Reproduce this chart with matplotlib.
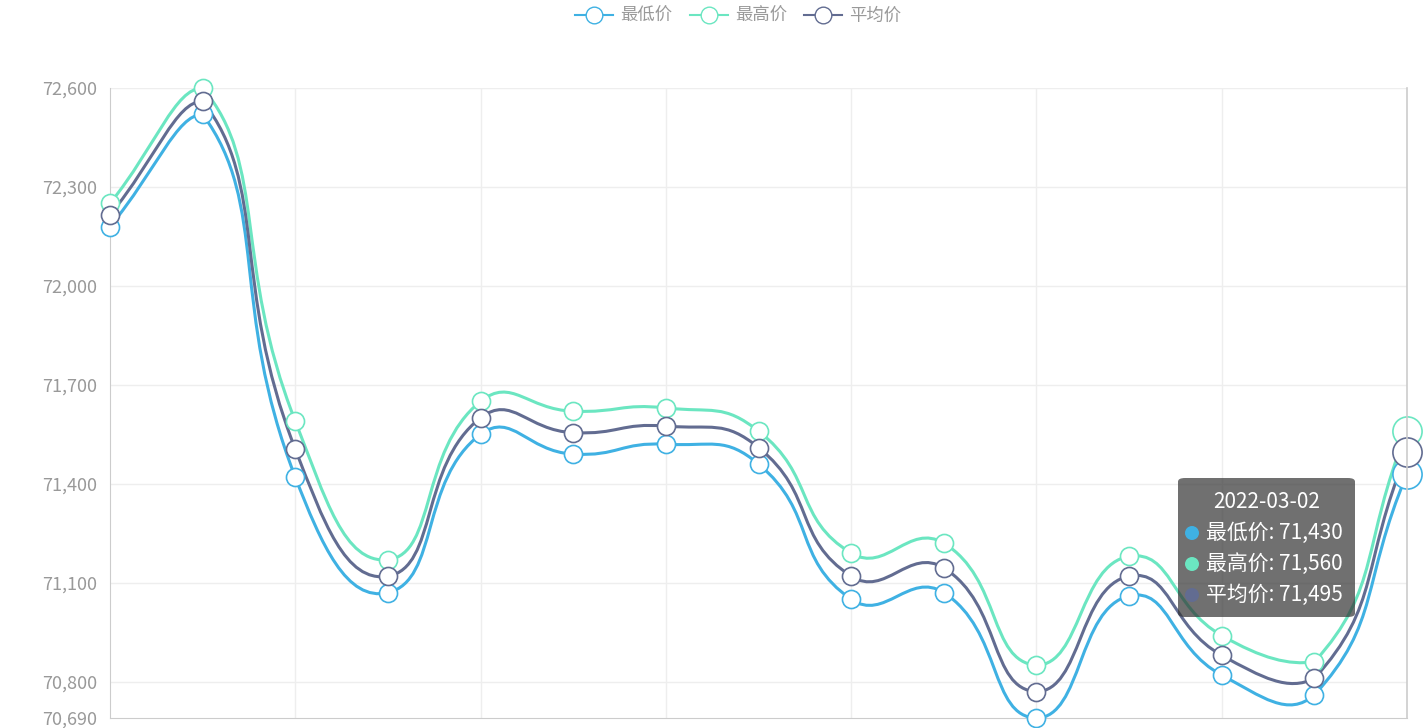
import numpy as np
import matplotlib.pyplot as plt
from matplotlib.path import Path
from matplotlib.patches import PathPatch, FancyBboxPatch, Ellipse
from matplotlib.lines import Line2D
from matplotlib.ticker import FuncFormatter

plt.rcParams['font.family'] = ['Noto Sans CJK SC', 'DejaVu Sans']

# data
low = [72180, 72520, 71420, 71070, 71550, 71490, 71520, 71460, 71050, 71070, 70690, 71060, 70820, 70760, 71430]
high = [72250, 72600, 71590, 71170, 71650, 71620, 71630, 71560, 71190, 71220, 70850, 71180, 70940, 70860, 71560]
avg = [72215, 72560, 71505, 71120, 71600, 71555, 71575, 71510, 71120, 71145, 70770, 71120, 70880, 70810, 71495]
names = ['最低价', '最高价', '平均价']
colors = ['#3fb1e3', '#6be6c1', '#626c91']
y_ticks = [70690, 70800, 71100, 71400, 71700, 72000, 72300, 72600]
tip_date = '2022-03-02'

sx, sy = 92.6, 0.33   # px per unit, used for spline weighting


def smooth_path(xs, ys, smooth=0.5):
    # echarts-like smoothing, control points clamped to the series bbox
    pts = np.column_stack([xs, ys]).astype(float)
    n = len(pts)
    lo, hi = pts.min(axis=0), pts.max(axis=0)
    scale = np.array([sx, sy])
    cps = []
    for i in range(n):
        p = pts[i]
        prev = pts[i - 1] if i > 0 else p
        nxt = pts[i + 1] if i < n - 1 else p
        v = (nxt - prev) * smooth
        d0 = np.linalg.norm((p - prev) * scale)
        d1 = np.linalg.norm((nxt - p) * scale)
        tot = d0 + d1 if d0 + d1 > 0 else 1
        c0 = np.clip(p - v * d0 / tot, lo, hi)
        c1 = np.clip(p + v * d1 / tot, lo, hi)
        cps.append((c0, c1))
    verts = [pts[0]]
    codes = [Path.MOVETO]
    for i in range(n - 1):
        verts += [cps[i][1], cps[i + 1][0], pts[i + 1]]
        codes += [Path.CURVE4] * 3
    return Path(verts, codes)


fig = plt.figure(figsize=(14.25, 7.28), dpi=100)
ax = fig.add_axes([110 / 1425, 1 - 718 / 728, 1297 / 1425, 630 / 728])
x = np.arange(len(low))
ax.set_xlim(0, len(low) - 1)
ax.set_ylim(70690, 72600)

for vals, c in zip([low, high, avg], colors):
    ax.add_patch(PathPatch(smooth_path(x, vals), fill=False, edgecolor=c, lw=2.2, zorder=3))
    ax.plot(x[:-1], vals[:-1], 'o', ms=13, mfc='white', mec=c, mew=1.2, zorder=4, clip_on=False)
    ax.plot(x[-1:], vals[-1:], 'o', ms=21, mfc='white', mec=c, mew=1.2, zorder=4, clip_on=False)

# grid
for yt in y_ticks[1:]:
    ax.axhline(yt, color='#eeeeee', lw=1, zorder=0)
for xv in range(2, len(low) - 1, 2):
    ax.axvline(xv, color='#eeeeee', lw=1, zorder=0)
ax.axvline(len(low) - 1, color='#cccccc', lw=1.2, zorder=5, clip_on=False)

for s in ['top', 'right']:
    ax.spines[s].set_visible(False)
ax.spines['left'].set_color('#cccccc')
ax.spines['bottom'].set_color('#cccccc')
ax.set_xticks([])
ax.set_yticks(y_ticks)
ax.yaxis.set_major_formatter(FuncFormatter(lambda v, p: f'{int(v):,}'))
ax.tick_params(axis='y', length=0, pad=9, labelsize=13, labelcolor='#999999')

# legend
handles = [Line2D([0], [0], color=c, lw=1.5, marker='o', ms=12, mfc='white', mec=c) for c in colors]
fig.legend(handles, names, loc='upper center', bbox_to_anchor=(0.518, 1.012), ncol=3, frameon=False,
           fontsize=12.5, labelcolor='#999999', handlelength=2.2, columnspacing=1.0, handletextpad=0.4)

# tooltip
x0, y0, w, h = 1178 / 1425, 1 - 617 / 728, 177 / 1425, 139 / 728
fig.patches.append(FancyBboxPatch((x0, y0), w, h, boxstyle='round,pad=0,rounding_size=0.005',
                                  transform=fig.transFigure, facecolor=(0.2, 0.2, 0.2, 0.7),
                                  edgecolor='none', zorder=10))
fig.text(x0 + w / 2, 1 - 502 / 728, tip_date, color='white', fontsize=15, ha='center', va='center', zorder=11)
for i, (n, c, v) in enumerate(zip(names, colors, [low[-1], high[-1], avg[-1]])):
    yy = 1 - (533 + 31 * i) / 728
    fig.patches.append(Ellipse((1192 / 1425, yy), 14 / 1425, 14 / 728, transform=fig.transFigure,
                               facecolor=c, edgecolor='none', zorder=11))
    fig.text(1206 / 1425, yy, f'{n}: {v:,}', color='white', fontsize=15, ha='left', va='center', zorder=11)

fig.savefig('out.png', dpi=100)
